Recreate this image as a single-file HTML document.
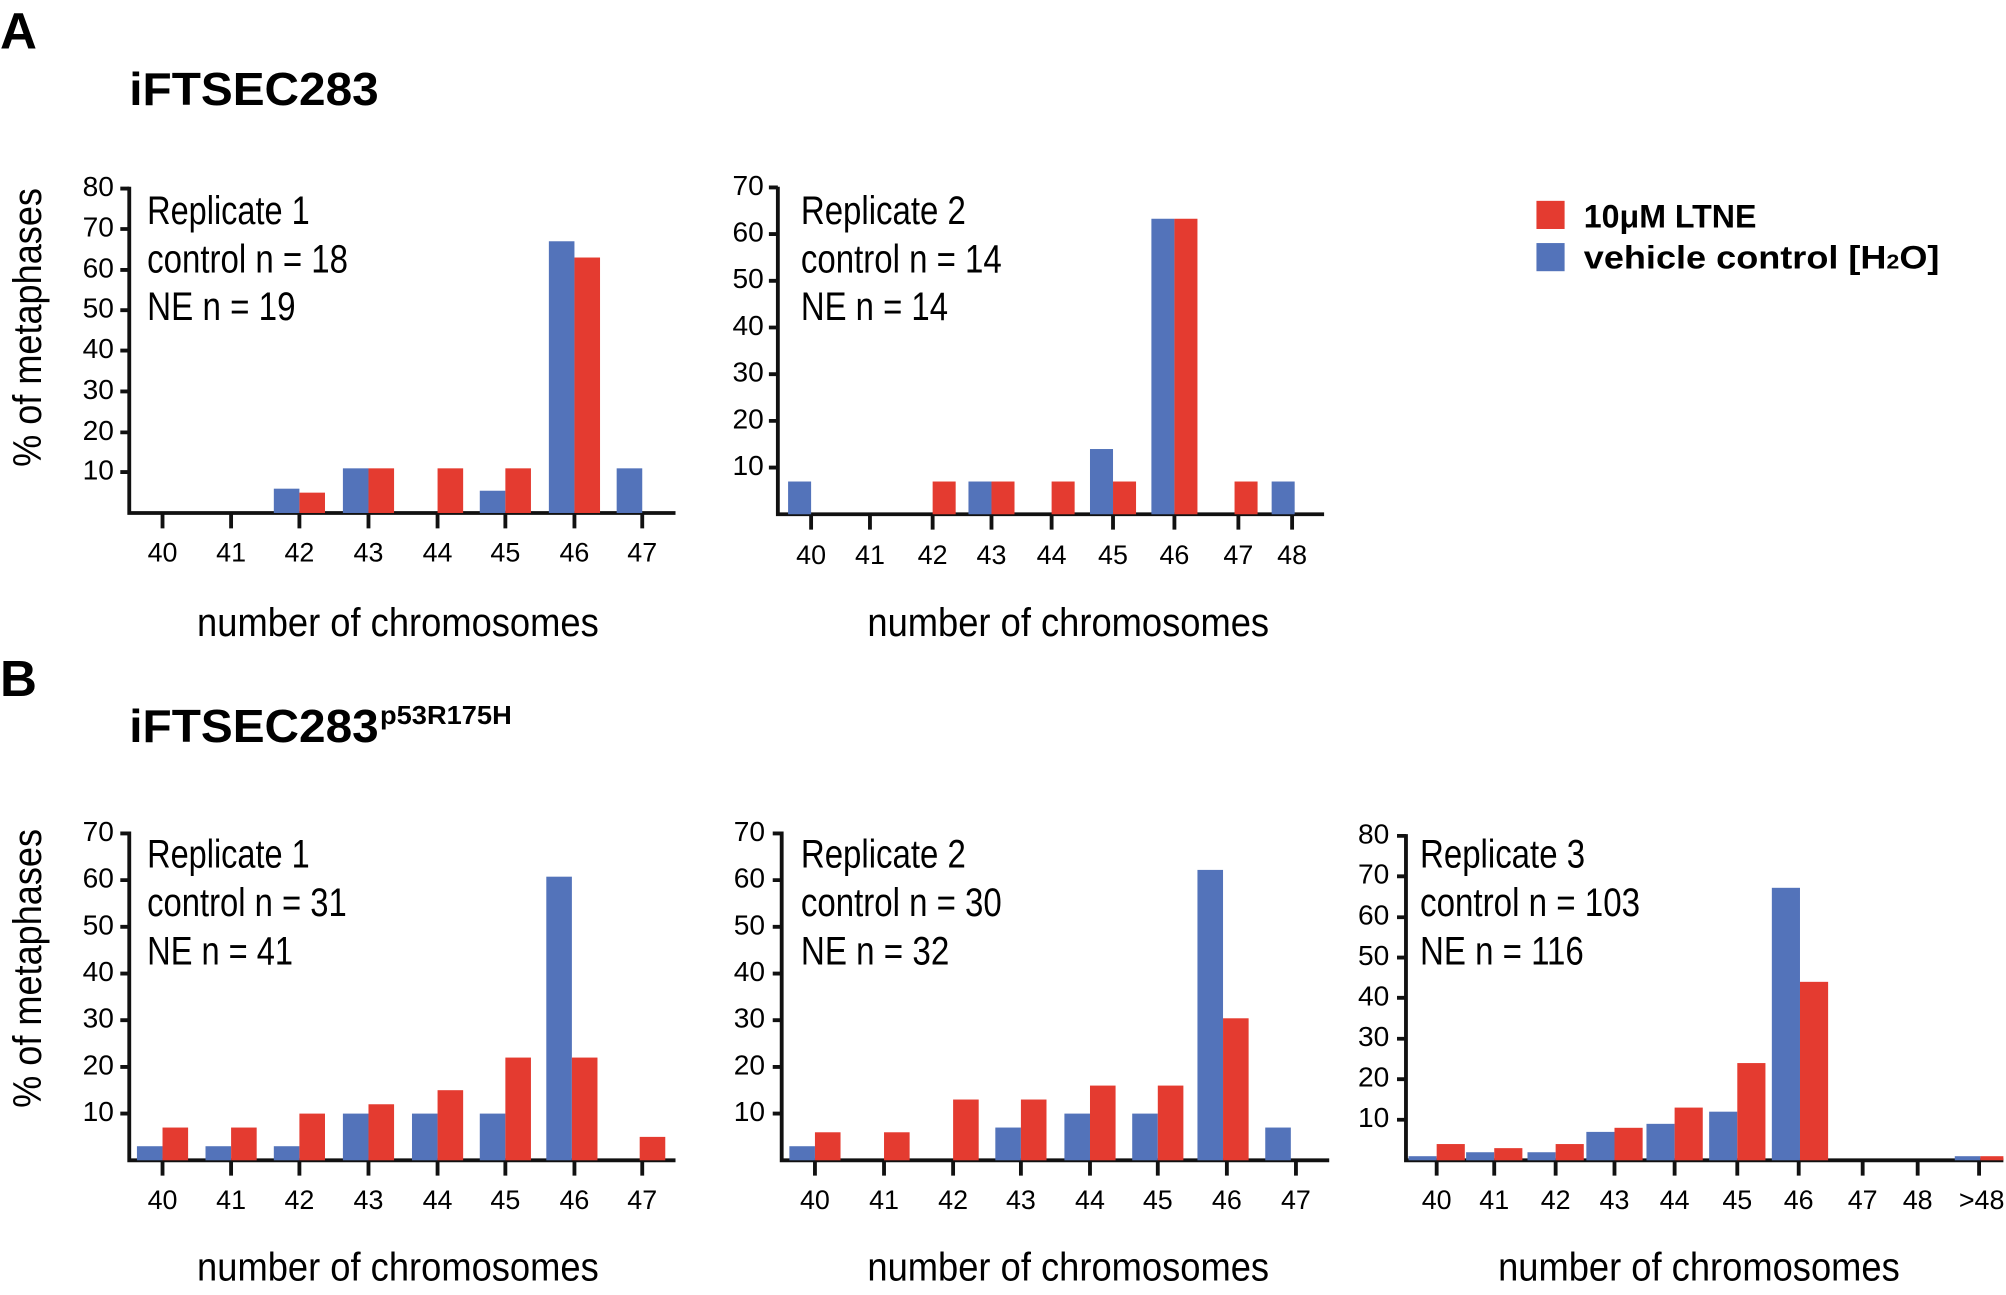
<!DOCTYPE html>
<html><head><meta charset="utf-8"><style>
html,body{margin:0;padding:0;background:#fff;}
svg{display:block;}
text{font-family:"Liberation Sans",sans-serif;fill:#000;}
.t{font-size:21px;text-anchor:middle;}
.y{font-size:22px;text-anchor:end;dominant-baseline:middle;}
.a{font-size:31px;}
.n{font-size:31px;}
.b{fill:#5373BA}.r{fill:#E43B30}
</style></head><body>
<svg width="2006" height="1295" viewBox="0 0 1568 1012.3" xmlns="http://www.w3.org/2000/svg">
<g stroke="#111" stroke-width="3" fill="none">
<path d="M101,146 V401 H528"/>
<path d="M94,147.4H101M94,179H101M94,211H101M94,242.5H101M94,274H101M94,306H101M94,338H101M94,369H101"/>
<path d="M127,401V413M180.6,401V413M234,401V413M288,401V413M342,401V413M395,401V413M449,401V413M502,401V413"/>
<path d="M608,146 V402 H1035"/>
<path d="M601,146.5H608M601,183H608M601,219.5H608M601,256H608M601,292.5H608M601,329H608M601,365.5H608"/>
<path d="M634,402V414M680,402V414M729,402V414M775,402V414M822,402V414M870,402V414M918,402V414M968,402V414M1010,402V414"/>
<path d="M101,650 V907 H528"/>
<path d="M94,651.5H101M94,688H101M94,724.5H101M94,761H101M94,797.5H101M94,834H101M94,870.5H101"/>
<path d="M127,907V919M180.6,907V919M234,907V919M288,907V919M342,907V919M395,907V919M449,907V919M502,907V919"/>
<path d="M611,650 V907 H1039"/>
<path d="M604,651.5H611M604,688H611M604,724.5H611M604,761H611M604,797.5H611M604,834H611M604,870.5H611"/>
<path d="M637,907V919M691,907V919M745,907V919M798,907V919M852,907V919M905,907V919M959,907V919M1013,907V919"/>
<path d="M1099,652 V907 H1566"/>
<path d="M1092,653.4H1099M1092,685H1099M1092,717H1099M1092,748.5H1099M1092,780H1099M1092,812H1099M1092,843.6H1099M1092,875.3H1099"/>
<path d="M1123,907V919M1168,907V919M1216,907V919M1262,907V919M1309,907V919M1358,907V919M1406,907V919M1456,907V919M1499,907V919M1547,907V919"/>
</g>

<rect class="b" x="214" y="382" width="20" height="19"/><rect class="r" x="234" y="385.1" width="20" height="15.9"/>
<rect class="b" x="268" y="366.1" width="20" height="34.9"/><rect class="r" x="288" y="366.1" width="20" height="34.9"/>
<rect class="r" x="342" y="366.1" width="20" height="34.9"/>
<rect class="b" x="375" y="383.6" width="20" height="17.4"/><rect class="r" x="395" y="366.1" width="20" height="34.9"/>
<rect class="b" x="429" y="188.6" width="20" height="212.4"/><rect class="r" x="449" y="201.3" width="20" height="199.7"/>
<rect class="b" x="482" y="366.1" width="20" height="34.9"/>
<rect class="b" x="616" y="376.4" width="18" height="25.6"/>
<rect class="r" x="729" y="376.4" width="18" height="25.6"/>
<rect class="b" x="757" y="376.4" width="18" height="25.6"/><rect class="r" x="775" y="376.4" width="18" height="25.6"/>
<rect class="r" x="822" y="376.4" width="18" height="25.6"/>
<rect class="b" x="852" y="351" width="18" height="51"/><rect class="r" x="870" y="376.4" width="18" height="25.6"/>
<rect class="b" x="900" y="171" width="18" height="231"/><rect class="r" x="918" y="171" width="18" height="231"/>
<rect class="r" x="965" y="376.4" width="18" height="25.6"/>
<rect class="b" x="994" y="376.4" width="18" height="25.6"/>
<rect class="b" x="107" y="896" width="20" height="11"/><rect class="r" x="127" y="881.4" width="20" height="25.6"/>
<rect class="b" x="160.6" y="896" width="20" height="11"/><rect class="r" x="180.6" y="881.4" width="20" height="25.6"/>
<rect class="b" x="214" y="896" width="20" height="11"/><rect class="r" x="234" y="870.5" width="20" height="36.5"/>
<rect class="b" x="268" y="870.5" width="20" height="36.5"/><rect class="r" x="288" y="863.2" width="20" height="43.8"/>
<rect class="b" x="322" y="870.5" width="20" height="36.5"/><rect class="r" x="342" y="852.2" width="20" height="54.8"/>
<rect class="b" x="375" y="870.5" width="20" height="36.5"/><rect class="r" x="395" y="826.7" width="20" height="80.3"/>
<rect class="b" x="427" y="685.3" width="20" height="221.7"/><rect class="r" x="447" y="826.7" width="20" height="80.3"/>
<rect class="r" x="500" y="888.7" width="20" height="18.3"/>
<rect class="b" x="617" y="896" width="20" height="11"/><rect class="r" x="637" y="885.1" width="20" height="21.9"/>
<rect class="r" x="691" y="885.1" width="20" height="21.9"/>
<rect class="r" x="745" y="859.5" width="20" height="47.5"/>
<rect class="b" x="778" y="881.4" width="20" height="25.6"/><rect class="r" x="798" y="859.5" width="20" height="47.5"/>
<rect class="b" x="832" y="870.5" width="20" height="36.5"/><rect class="r" x="852" y="848.6" width="20" height="58.4"/>
<rect class="b" x="885" y="870.5" width="20" height="36.5"/><rect class="r" x="905" y="848.6" width="20" height="58.4"/>
<rect class="b" x="936" y="680" width="20" height="227"/><rect class="r" x="956" y="796" width="20" height="111"/>
<rect class="b" x="989" y="881.4" width="20" height="25.6"/>
<rect class="b" x="1101" y="903.8" width="22" height="3.2"/><rect class="r" x="1123" y="894.3" width="22" height="12.7"/>
<rect class="b" x="1146" y="900.7" width="22" height="6.3"/><rect class="r" x="1168" y="897.5" width="22" height="9.5"/>
<rect class="b" x="1194" y="900.7" width="22" height="6.3"/><rect class="r" x="1216" y="894.3" width="22" height="12.7"/>
<rect class="b" x="1240" y="884.8" width="22" height="22.2"/><rect class="r" x="1262" y="881.6" width="22" height="25.4"/>
<rect class="b" x="1287" y="878.5" width="22" height="28.5"/><rect class="r" x="1309" y="865.8" width="22" height="41.2"/>
<rect class="b" x="1336" y="869" width="22" height="38"/><rect class="r" x="1358" y="831" width="22" height="76"/>
<rect class="b" x="1385" y="694" width="22" height="213"/><rect class="r" x="1407" y="767.5" width="22" height="139.5"/>
<rect class="b" x="1528" y="903.8" width="20" height="3.2"/><rect class="r" x="1548" y="903.8" width="18" height="3.2"/>

<text x="0" y="38" style="font-size:40px;font-weight:bold">A</text>
<text x="101" y="82" style="font-size:36px;font-weight:bold" textLength="195" lengthAdjust="spacingAndGlyphs">iFTSEC283</text>
<text x="0" y="544" style="font-size:40px;font-weight:bold">B</text>
<text x="101" y="580" style="font-size:36px;font-weight:bold" textLength="195" lengthAdjust="spacingAndGlyphs">iFTSEC283</text>
<text x="297" y="566" style="font-size:20px;font-weight:bold" textLength="103" lengthAdjust="spacingAndGlyphs">p53R175H</text>

<rect class="r" x="1201" y="157" width="22" height="22"/>
<rect class="b" x="1201" y="190" width="22" height="22"/>
<text x="1238" y="178" style="font-size:25px;font-weight:bold" textLength="135" lengthAdjust="spacingAndGlyphs">10μM LTNE</text>
<text x="1238" y="210" style="font-size:25px;font-weight:bold" textLength="278" lengthAdjust="spacingAndGlyphs">vehicle control [H<tspan style="font-size:16px">2</tspan>O]</text>

<text transform="translate(32,256) rotate(-90)" class="a" text-anchor="middle" textLength="218" lengthAdjust="spacingAndGlyphs">% of metaphases</text>
<text transform="translate(32,757) rotate(-90)" class="a" text-anchor="middle" textLength="218" lengthAdjust="spacingAndGlyphs">% of metaphases</text>

<text x="154" y="497" class="a" textLength="314" lengthAdjust="spacingAndGlyphs">number of chromosomes</text>
<text x="678" y="497" class="a" textLength="314" lengthAdjust="spacingAndGlyphs">number of chromosomes</text>
<text x="154" y="1001" class="a" textLength="314" lengthAdjust="spacingAndGlyphs">number of chromosomes</text>
<text x="678" y="1001" class="a" textLength="314" lengthAdjust="spacingAndGlyphs">number of chromosomes</text>
<text x="1171" y="1001" class="a" textLength="314" lengthAdjust="spacingAndGlyphs">number of chromosomes</text>

<text x="115" y="175" class="n" textLength="127" lengthAdjust="spacingAndGlyphs">Replicate 1</text>
<text x="115" y="213" class="n" textLength="157" lengthAdjust="spacingAndGlyphs">control n = 18</text>
<text x="115" y="250" class="n" textLength="116" lengthAdjust="spacingAndGlyphs">NE n = 19</text>
<text x="626" y="175" class="n" textLength="129" lengthAdjust="spacingAndGlyphs">Replicate 2</text>
<text x="626" y="213" class="n" textLength="157" lengthAdjust="spacingAndGlyphs">control n = 14</text>
<text x="626" y="250" class="n" textLength="115" lengthAdjust="spacingAndGlyphs">NE n = 14</text>
<text x="115" y="678" class="n" textLength="127" lengthAdjust="spacingAndGlyphs">Replicate 1</text>
<text x="115" y="716" class="n" textLength="156" lengthAdjust="spacingAndGlyphs">control n = 31</text>
<text x="115" y="754" class="n" textLength="114" lengthAdjust="spacingAndGlyphs">NE n = 41</text>
<text x="626" y="678" class="n" textLength="129" lengthAdjust="spacingAndGlyphs">Replicate 2</text>
<text x="626" y="716" class="n" textLength="157" lengthAdjust="spacingAndGlyphs">control n = 30</text>
<text x="626" y="754" class="n" textLength="116" lengthAdjust="spacingAndGlyphs">NE n = 32</text>
<text x="1110" y="678" class="n" textLength="129" lengthAdjust="spacingAndGlyphs">Replicate 3</text>
<text x="1110" y="716" class="n" textLength="172" lengthAdjust="spacingAndGlyphs">control n = 103</text>
<text x="1110" y="754" class="n" textLength="128" lengthAdjust="spacingAndGlyphs">NE n = 116</text>

<text class="y" x="89" y="147.4">80</text><text class="y" x="89" y="179">70</text><text class="y" x="89" y="211">60</text><text class="y" x="89" y="242.5">50</text><text class="y" x="89" y="274">40</text><text class="y" x="89" y="306">30</text><text class="y" x="89" y="338">20</text><text class="y" x="89" y="369">10</text>
<text class="y" x="597" y="146.5">70</text><text class="y" x="597" y="183">60</text><text class="y" x="597" y="219.5">50</text><text class="y" x="597" y="256">40</text><text class="y" x="597" y="292.5">30</text><text class="y" x="597" y="329">20</text><text class="y" x="597" y="365.5">10</text>
<text class="y" x="89" y="651.5">70</text><text class="y" x="89" y="688">60</text><text class="y" x="89" y="724.5">50</text><text class="y" x="89" y="761">40</text><text class="y" x="89" y="797.5">30</text><text class="y" x="89" y="834">20</text><text class="y" x="89" y="870.5">10</text>
<text class="y" x="598" y="651.5">70</text><text class="y" x="598" y="688">60</text><text class="y" x="598" y="724.5">50</text><text class="y" x="598" y="761">40</text><text class="y" x="598" y="797.5">30</text><text class="y" x="598" y="834">20</text><text class="y" x="598" y="870.5">10</text>
<text class="y" x="1086" y="653.4">80</text><text class="y" x="1086" y="685">70</text><text class="y" x="1086" y="717">60</text><text class="y" x="1086" y="748.5">50</text><text class="y" x="1086" y="780">40</text><text class="y" x="1086" y="812">30</text><text class="y" x="1086" y="843.6">20</text><text class="y" x="1086" y="875.3">10</text>

<text class="t" x="127" y="439">40</text><text class="t" x="180.6" y="439">41</text><text class="t" x="234" y="439">42</text><text class="t" x="288" y="439">43</text><text class="t" x="342" y="439">44</text><text class="t" x="395" y="439">45</text><text class="t" x="449" y="439">46</text><text class="t" x="502" y="439">47</text>
<text class="t" x="634" y="441">40</text><text class="t" x="680" y="441">41</text><text class="t" x="729" y="441">42</text><text class="t" x="775" y="441">43</text><text class="t" x="822" y="441">44</text><text class="t" x="870" y="441">45</text><text class="t" x="918" y="441">46</text><text class="t" x="968" y="441">47</text><text class="t" x="1010" y="441">48</text>
<text class="t" x="127" y="945">40</text><text class="t" x="180.6" y="945">41</text><text class="t" x="234" y="945">42</text><text class="t" x="288" y="945">43</text><text class="t" x="342" y="945">44</text><text class="t" x="395" y="945">45</text><text class="t" x="449" y="945">46</text><text class="t" x="502" y="945">47</text>
<text class="t" x="637" y="945">40</text><text class="t" x="691" y="945">41</text><text class="t" x="745" y="945">42</text><text class="t" x="798" y="945">43</text><text class="t" x="852" y="945">44</text><text class="t" x="905" y="945">45</text><text class="t" x="959" y="945">46</text><text class="t" x="1013" y="945">47</text>
<text class="t" x="1123" y="945">40</text><text class="t" x="1168" y="945">41</text><text class="t" x="1216" y="945">42</text><text class="t" x="1262" y="945">43</text><text class="t" x="1309" y="945">44</text><text class="t" x="1358" y="945">45</text><text class="t" x="1406" y="945">46</text><text class="t" x="1456" y="945">47</text><text class="t" x="1499" y="945">48</text><text class="t" x="1549" y="945">&gt;48</text>
</svg>
</body></html>
